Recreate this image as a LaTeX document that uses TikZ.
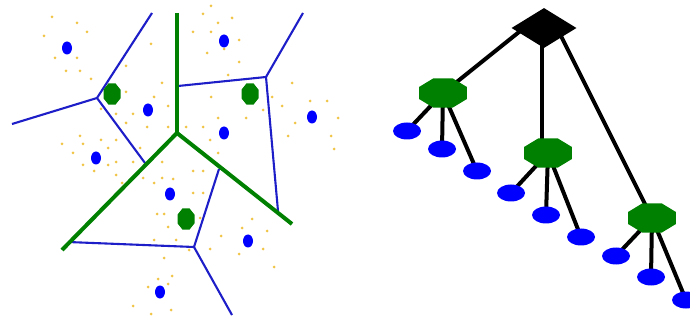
\documentclass[tikz,border=0pt]{standalone}
\usetikzlibrary{shapes.geometric,backgrounds}
\definecolor{vblue}{RGB}{30,30,200}
\definecolor{vgreen}{RGB}{0,128,0}
\definecolor{dotc}{RGB}{240,196,70}
\begin{document}
\begin{tikzpicture}[x=1pt,y=-1pt,
  bline/.style={draw=vblue,line width=2.1pt},
  gline/.style={draw=vgreen,line width=4pt},
  tline/.style={draw=black,line width=4pt},
  smallpt/.style={fill=blue,draw=none,ellipse,minimum width=10pt,minimum height=13pt,inner sep=0pt},
  smalloct/.style={fill=vgreen,draw=none,regular polygon,regular polygon sides=8,minimum size=18.4pt,inner sep=0pt,yscale=1.24},
  leaf/.style={fill=blue,draw=none,ellipse,minimum width=28pt,minimum height=17pt,inner sep=0pt},
  octa/.style={fill=vgreen,draw=none,regular polygon,regular polygon sides=8,minimum size=31.4pt,inner sep=0pt,xscale=1.65},
  rootd/.style={fill=black,draw=none,diamond,minimum width=65pt,minimum height=40pt,inner sep=0pt},
  sdot/.style={fill=dotc,draw=none,circle,minimum size=3pt,inner sep=0pt}]
\useasboundingbox (0,0) rectangle (690,320);
% ---------- left: Voronoi-like partition ----------
\foreach \x/\y in {52/17,77/23,87/32,44/36,55/58,77/58,66/71,80/71,91/79,151/44,126/66,162/83,154/97,168/106,126/92,116/114,133/114,126/123,147/127,168/127,101/109,80/136,62/144,83/144,101/140,116/140,108/148,73/153,83/165,108/165,116/162,94/171,116/175,133/162,140/148,122/183,143/178,154/183,162/178,162/162,173/179,193/171,203/171,186/127,203/127,211/97,218/118,210/140,218/153,246/118,263/110,272/97,282/106,292/83,310/101,327/101,338/118,295/123,288/136,331/136,334/149,211/6,203/14,232/18,218/23,193/32,211/32,239/40,224/49,207/53,239/62,228/75,203/193,193/193,157/214,164/214,168/227,200/218,154/240,176/240,189/250,221/236,210/249,239/254,242/228,267/231,263/249,252/219,274/267,164/258,172/276,148/287,168/284,158/279,133/306,151/314,171/310}
  \node[sdot] at (\x,\y) {};
% junctions
\coordinate (gc) at (177,133);
\coordinate (gt) at (177,13);
\coordinate (gl) at (62,250);
\coordinate (gr) at (292,224);
\coordinate (ja) at (97,98);
\coordinate (jb) at (266,77);
\coordinate (jc) at (194,247);
\coordinate (ea1) at (152,13);
\coordinate (ea2) at (12,124);
\coordinate (ea3) at (145,163);
\coordinate (eb1) at (303,13);
\coordinate (eb2) at (178,86);
\coordinate (eb3) at (278,211);
\coordinate (ec1) at (68,242);
\coordinate (ec2) at (219,169);
\coordinate (ec3) at (232,315);
% blue edges
\draw[bline] (ja) -- (ea1);
\draw[bline] (ja) -- (ea2);
\draw[bline] (ja) -- (ea3);
\draw[bline] (jb) -- (eb1);
\draw[bline] (jb) -- (eb2);
\draw[bline] (jb) -- (eb3);
\draw[bline] (jc) -- (ec1);
\draw[bline] (jc) -- (ec2);
\draw[bline] (jc) -- (ec3);
% green edges
\draw[gline] (gt) -- (gc);
\draw[gline] (gc) -- (gl);
\draw[gline] (gc) -- (gr);
% green sites
\node[smalloct] (s1) at (112,94) {};
\node[smalloct] (s2) at (250,94) {};
\node[smalloct] (s3) at (186,219) {};
% blue sites
\node[smallpt] (b1) at (67,48) {};
\node[smallpt] (b2) at (148,110) {};
\node[smallpt] (b3) at (96,158) {};
\node[smallpt] (b4) at (224,41) {};
\node[smallpt] (b5) at (224,133) {};
\node[smallpt] (b6) at (312,117) {};
\node[smallpt] (b7) at (170,194) {};
\node[smallpt] (b8) at (248,241) {};
\node[smallpt] (b9) at (160,292) {};
% ---------- right: tree ----------
\node[rootd] (r) at (544,28) {};
\node[octa] (o1) at (443,93) {};
\node[octa] (o2) at (548,153) {};
\node[octa] (o3) at (652,218) {};
\node[leaf] (l1) at (407,131) {};
\node[leaf] (l2) at (442,149) {};
\node[leaf] (l3) at (477,171) {};
\node[leaf] (l4) at (511,193) {};
\node[leaf] (l5) at (546,215) {};
\node[leaf] (l6) at (581,237) {};
\node[leaf] (l7) at (616,256) {};
\node[leaf] (l8) at (651,277) {};
\node[leaf] (l9) at (686,300) {};
\begin{scope}[on background layer]
\draw[tline] ([xshift=-20pt]r.center) -- (o1.center);
\draw[tline] ([xshift=-2pt]r.center) -- ([xshift=-2pt]r.center |- o2.center);
\draw[tline] ([xshift=13pt]r.center) -- (o3.center);
\draw[tline] (o1.center) -- (l1.center);
\draw[tline] (o1.center) -- (l2.center);
\draw[tline] (o1.center) -- (l3.center);
\draw[tline] (o2.center) -- (l4.center);
\draw[tline] (o2.center) -- (l5.center);
\draw[tline] (o2.center) -- (l6.center);
\draw[tline] (o3.center) -- (l7.center);
\draw[tline] (o3.center) -- (l8.center);
\draw[tline] (o3.center) -- (l9.center);
\end{scope}
\end{tikzpicture}
\end{document}
